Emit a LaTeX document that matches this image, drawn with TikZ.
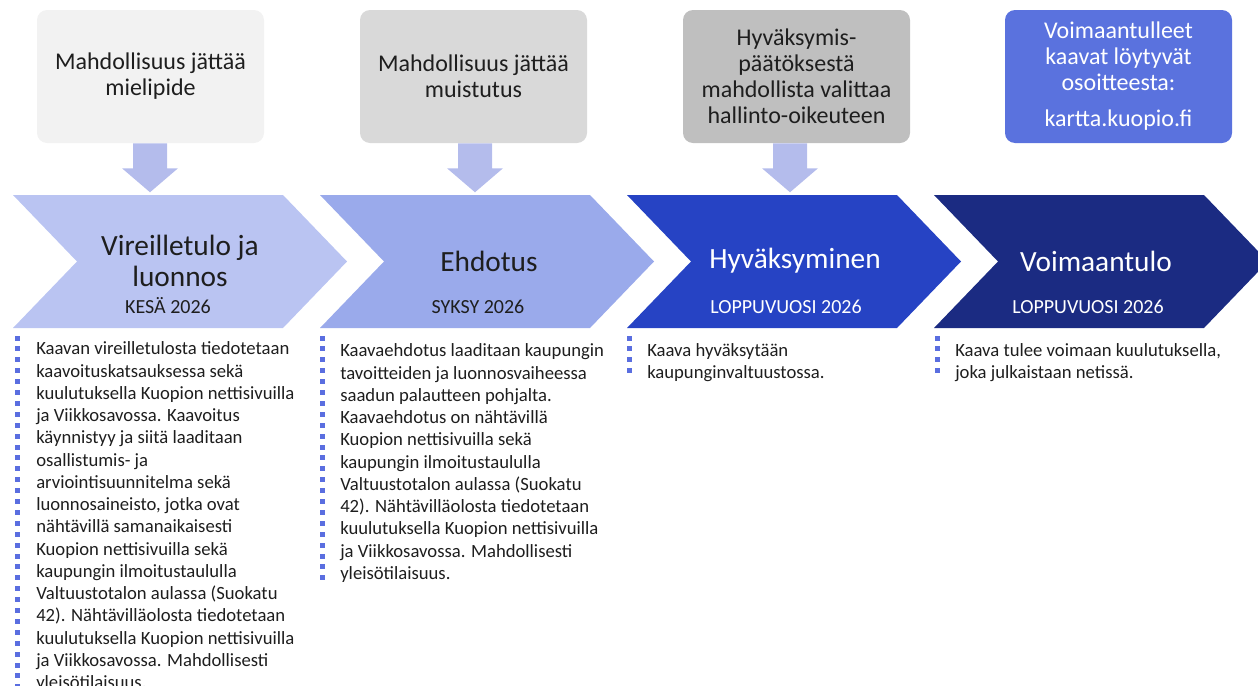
\documentclass[tikz,border=0pt]{standalone}
\usepackage{fontspec}
\setmainfont{Carlito}
\definecolor{boxone}{HTML}{F2F2F2}
\definecolor{boxtwo}{HTML}{D9D9D9}
\definecolor{boxthree}{HTML}{BFBFBF}
\definecolor{boxfour}{HTML}{5A72DE}
\definecolor{arrowfill}{HTML}{B4BCEC}
\definecolor{chevone}{HTML}{BAC4F2}
\definecolor{chevtwo}{HTML}{9AAAEB}
\definecolor{chevthree}{HTML}{2643C4}
\definecolor{chevfour}{HTML}{1B2B82}
\definecolor{dotblue}{HTML}{5A6EE0}
\definecolor{textdark}{HTML}{1E1E1E}
\tikzset{
  topbox/.style={rounded corners=7.5pt, minimum width=170.25pt, minimum height=99.75pt,
    inner sep=0pt, align=center, text=textdark, font=\fontsize{18pt}{19.5pt}\selectfont},
  chevtitle/.style={inner sep=0pt, align=center, font=\fontsize{22pt}{23pt}\selectfont},
  datetext/.style={inner sep=0pt, font=\fontsize{15pt}{18pt}\selectfont},
  bodytext/.style={anchor=north west, inner sep=0pt, align=left, text=textdark,
    font=\fontsize{14pt}{16.7pt}\selectfont}
}
\begin{document}
\begin{tikzpicture}[x=0.75pt,y=-0.75pt]
    \useasboundingbox (0,0) rectangle (1258,686);
    \clip (0,0) rectangle (1258,686);
    % boxes on top
    \node[topbox, fill=boxone] (b1) at (150.5,76.5) {Mahdollisuus jättää\\mielipide};
    \node[topbox, fill=boxtwo] (b2) at (473.5,76.5) {Mahdollisuus jättää\\muistutus};
    \node[topbox, fill=boxthree] (b3) at (796.5,76.5) {Hyväksymis-\\päätöksestä\\mahdollista valittaa\\hallinto-oikeuteen};
    \node[topbox, fill=boxfour, text=white] (b4) at (1118.5,76.5) {Voimaantulleet\\kaavat löytyvät\\osoitteesta:\\[7.5pt]kartta.kuopio.fi};
    % block arrows down
    \foreach \b/\dx in {b1/-0.5,b2/1.5,b3/-6.5}
        \fill[arrowfill] (\b.south) ++(\dx-17,0) -- ++(0,25) -- ++(-11,0) -- ++(28,24) -- ++(28,-24) -- ++(-11,0) -- ++(0,-25) -- cycle;
    % chevrons
    \foreach \i/\col in {0/chevone,1/chevtwo,2/chevthree,3/chevfour}
        \fill[\col] ({13+307*\i},195) -- ++(270,0) -- ++(64,66.5) -- ++(-64,66.5) -- ++(-270,0) -- ++(64,-66.5) -- cycle;
    \node[chevtitle, text=textdark] (c1) at (180,261) {Vireilletulo ja\\luonnos};
    \node[chevtitle, text=textdark] (c2) at (489,261) {Ehdotus};
    \node[chevtitle, text=white] (c3) at (795,261) {Hyväksyminen};
    \node[chevtitle, text=white] (c4) at (1096,261) {Voimaantulo};
    \node[datetext, text=textdark] (d1) at (168,306) {KESÄ 2026};
    \node[datetext, text=textdark] (d2) at (478,307) {SYKSY 2026};
    \node[datetext, text=white] (d3) at (786,307) {LOPPUVUOSI 2026};
    \node[datetext, text=white] (d4) at (1088,307) {LOPPUVUOSI 2026};
    % dotted bars
    \foreach \x/\n in {17/33,322/23,629/4,937/4}
        \foreach \k in {1,...,\n}
            \fill[dotblue] (\x-2.5,{335.5+10.9*(\k-1)}) rectangle ++(5,5);
    % texts
    \node[bodytext] (p1) at (36,341.5) {Kaavan vireilletulosta tiedotetaan\\kaavoituskatsauksessa sekä\\kuulutuksella Kuopion nettisivuilla\\ja Viikkosavossa. Kaavoitus\\käynnistyy ja siitä laaditaan\\osallistumis- ja\\arviointisuunnitelma sekä\\luonnosaineisto, jotka ovat\\nähtävillä samanaikaisesti\\Kuopion nettisivuilla sekä\\kaupungin ilmoitustaululla\\Valtuustotalon aulassa (Suokatu\\42). Nähtävilläolosta tiedotetaan\\kuulutuksella Kuopion nettisivuilla\\ja Viikkosavossa. Mahdollisesti\\yleisötilaisuus.};
    \node[bodytext] (p2) at (340,343.5) {Kaavaehdotus laaditaan kaupungin\\tavoitteiden ja luonnosvaiheessa\\saadun palautteen pohjalta.\\Kaavaehdotus on nähtävillä\\Kuopion nettisivuilla sekä\\kaupungin ilmoitustaululla\\Valtuustotalon aulassa (Suokatu\\42). Nähtävilläolosta tiedotetaan\\kuulutuksella Kuopion nettisivuilla\\ja Viikkosavossa. Mahdollisesti\\yleisötilaisuus.};
    \node[bodytext] (p3) at (647,343.5) {Kaava hyväksytään\\kaupunginvaltuustossa.};
    \node[bodytext] (p4) at (955,343.5) {Kaava tulee voimaan kuulutuksella,\\joka julkaistaan netissä.};
\end{tikzpicture}
\end{document}
